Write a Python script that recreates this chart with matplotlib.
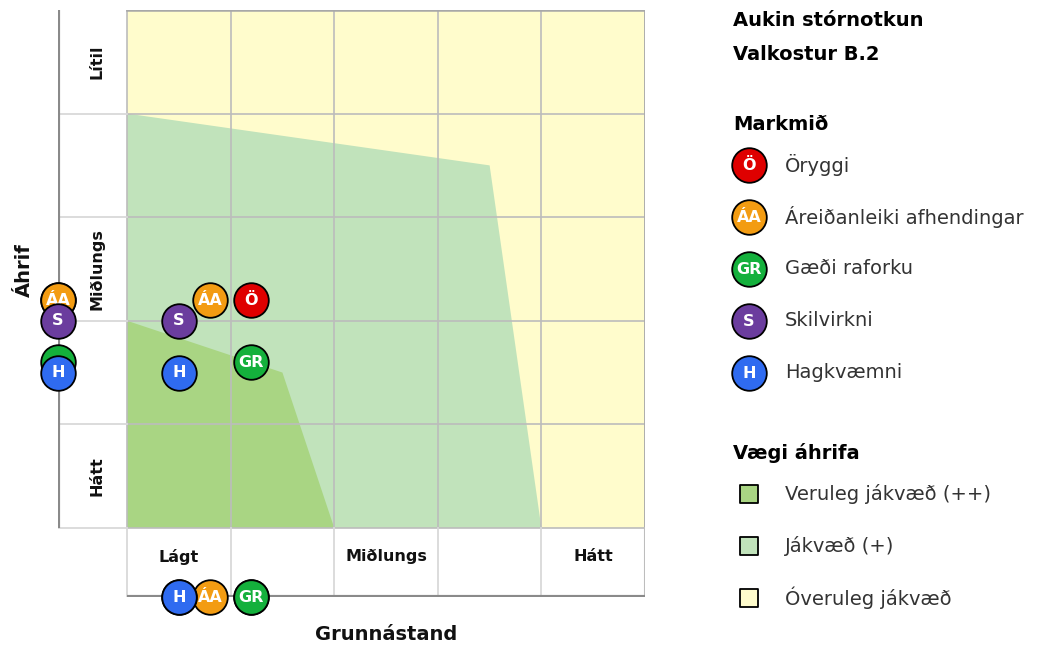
import matplotlib.pyplot as plt
from matplotlib.patches import Polygon, Rectangle

# Markmið (objectives) and where each one lands on the grid
codes = ['Ö', 'ÁA', 'GR', 'S', 'H']
names = ['Öryggi', 'Áreiðanleiki afhendingar', 'Gæði raforku', 'Skilvirkni', 'Hagkvæmni']
grunnastand = [1.2, 0.8, 1.2, 0.5, 0.5]
ahrif = [2.2, 2.2, 1.6, 2.0, 1.5]
colors = ['#df0000', '#f39c12', '#14b03c', '#6b3d9e', '#2f6bf0']

# Impact zones (polygon outlines on the 5x5 grid)
jakvaed_x = [0, 3.5, 4, 0]
jakvaed_y = [4, 3.5, 0, 0]
veruleg_x = [0, 1.5, 2, 0]
veruleg_y = [2, 1.5, 0, 0]

y_labels = ['Hátt', '', 'Miðlungs', '', 'Lítil']
x_labels = ['Lágt', '', 'Miðlungs', '', 'Hátt']

zone_names = ['Veruleg jákvæð (++)', 'Jákvæð (+)', 'Óveruleg jákvæð']
zone_colors = ['#a9d583', '#c1e3bb', '#fffccc']

plt.rcParams['font.family'] = ['DejaVu Sans']

W, H = 1043, 645
fig = plt.figure(figsize=(W / 100, H / 100), dpi=100)

band = 2 / 3
ax = fig.add_axes([58 / W, (H - 597) / H, 587 / W, 587 / H])
ax.set_xlim(-band, 5)
ax.set_ylim(-band, 5)
ax.axis('off')

# zones
ax.add_patch(Rectangle((0, 0), 5, 5, facecolor=zone_colors[2], edgecolor='none', zorder=1))
ax.add_patch(Polygon(list(zip(jakvaed_x, jakvaed_y)), facecolor=zone_colors[1], edgecolor='none', zorder=2))
ax.add_patch(Polygon(list(zip(veruleg_x, veruleg_y)), facecolor=zone_colors[0], edgecolor='none', zorder=3))

# grid inside the plot
grid_c = '#bcbcbc'
for i in range(6):
    ax.plot([i, i], [0, 5], color=grid_c, lw=1.2, zorder=4)
    ax.plot([0, 5], [i, i], color=grid_c, lw=1.2, zorder=4)
ax.plot([0, 5], [5, 5], color='#a8a8a8', lw=1.8, zorder=4)
ax.plot([5, 5], [0, 5], color='#a8a8a8', lw=1.8, zorder=4)

# label bands
band_c = '#d9d9d9'
for i in range(5):
    ax.plot([-band, 0], [i, i], color=band_c, lw=1.3, zorder=4)
for i in range(6):
    ax.plot([i, i], [-band, 0], color=band_c, lw=1.3, zorder=4)
ax.plot([5, 5], [-band, 0], color='#bdbdbd', lw=1.5, zorder=4)

for i, lab in enumerate(y_labels):
    if lab:
        ax.text(-0.29, i + 0.5, lab, rotation=90, ha='center', va='center',
                fontsize=11.5, fontweight='bold', color='#111111')
for i, lab in enumerate(x_labels):
    if lab:
        ax.text(i + 0.5, -0.28, lab, ha='center', va='center',
                fontsize=11.5, fontweight='bold', color='#111111')

# axis lines
ax.plot([-band, -band], [0, 5.02], color='#8a8a8a', lw=3, zorder=5, solid_capstyle='butt')
ax.plot([0, 5], [-band, -band], color='#8a8a8a', lw=3, zorder=5, solid_capstyle='butt')

size = 620


def marker(axis, x, y, code, color, z, label=True):
    axis.scatter([x], [y], s=size, color=color, edgecolor='black', linewidth=1.3,
                 zorder=z, clip_on=False)
    if label:
        axis.text(x, y, code, ha='center', va='center', color='white', fontsize=11.5,
                  fontweight='bold', zorder=z + 0.5, clip_on=False)


def covered(xs, ys, k, tol=0.12):
    # a marker is hidden when a later one sits almost on top of it
    return any(abs(xs[j] - xs[k]) < tol and abs(ys[j] - ys[k]) < tol
               for j in range(k + 1, len(xs)))


n = len(codes)
left_x = [-band] * n
bottom_y = [-band] * n
for k, (c, gx, ay, col) in enumerate(zip(codes, grunnastand, ahrif, colors)):
    z = 10 + k
    marker(ax, gx, ay, c, col, z, not covered(grunnastand, ahrif, k))
    marker(ax, -band, ay, c, col, z, not covered(left_x, ahrif, k))
    marker(ax, gx, -band, c, col, z, not covered(grunnastand, bottom_y, k))

fig.text(24 / W, 1 - 270 / H, 'Áhrif', rotation=90, ha='center', va='center',
         fontsize=14, fontweight='bold', color='#111111')
fig.text(386 / W, 1 - 634 / H, 'Grunnástand', ha='center', va='center',
         fontsize=14, fontweight='bold', color='#111111')

# legend panel in pixel coordinates
lg = fig.add_axes([0, 0, 1, 1])
lg.set_xlim(0, W)
lg.set_ylim(H, 0)
lg.axis('off')
lg.patch.set_alpha(0)

fs = 14
lg.text(733, 20, 'Aukin stórnotkun', ha='left', va='center', fontsize=fs, fontweight='bold')
lg.text(733, 55, 'Valkostur B.2', ha='left', va='center', fontsize=fs, fontweight='bold')
lg.text(733, 124, 'Markmið', ha='left', va='center', fontsize=fs, fontweight='bold')
for k, (c, name, col) in enumerate(zip(codes, names, colors)):
    yy = 165 + 52 * k
    marker(lg, 749, yy, c, col, 10)
    lg.text(785, yy, name, ha='left', va='center', fontsize=fs, color='#333333')

lg.text(733, 453, 'Vægi áhrifa', ha='left', va='center', fontsize=fs, fontweight='bold')
for k, (name, col) in enumerate(zip(zone_names, zone_colors)):
    yy = 494 + 52 * k
    lg.scatter([749], [yy], s=165, marker='s', color=col, edgecolor='black', linewidth=1.3)
    lg.text(785, yy, name, ha='left', va='center', fontsize=fs, color='#333333')

fig.savefig('out.png', dpi=100)
